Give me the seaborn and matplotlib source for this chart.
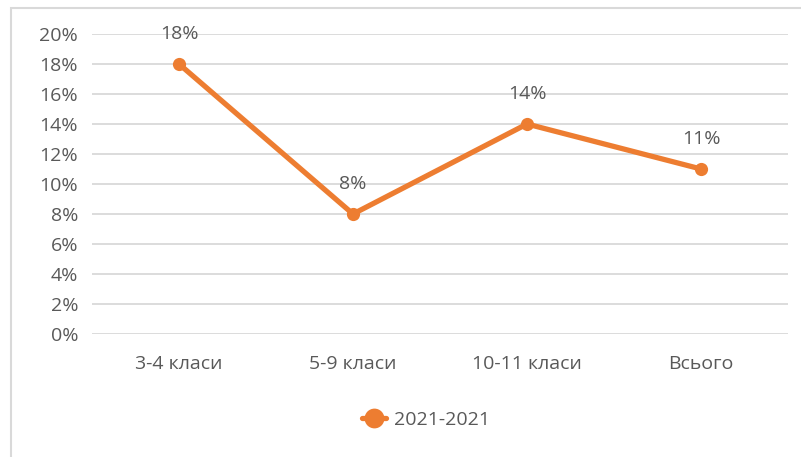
import matplotlib.pyplot as plt
import pandas as pd
import seaborn as sns
from matplotlib.patches import Rectangle
from matplotlib.ticker import FuncFormatter, MultipleLocator

# chart data
categories = ['3-4 класи', '5-9 класи', '10-11 класи', 'Всього']
shares = [0.18, 0.08, 0.14, 0.11]
series_name = '2021-2021'

ORANGE = '#ED7D31'
TEXT = '#595959'
GRID = '#D9D9D9'

sns.set_theme(style='white')
plt.rcParams['font.family'] = ['Open Sans', 'DejaVu Sans']

df = pd.DataFrame({'category': categories, 'share': shares, 'series': series_name})

fig = plt.figure(figsize=(8.01, 4.57), dpi=100)
ax = fig.add_axes([92 / 801, 123 / 457, 696 / 801, 300 / 457])

sns.lineplot(
    data=df, x='category', y='share', hue='series', palette=[ORANGE],
    marker='o', markersize=9.5, markeredgewidth=0, linewidth=3.8,
    sort=False, ax=ax, legend=True
)

# data labels
for i, v in enumerate(shares):
    ax.annotate(f'{v:.0%}', (i, v), xytext=(0, 15), textcoords='offset points',
                ha='center', va='bottom', fontsize=14, color=TEXT)

ax.set_xlim(-0.5, len(categories) - 0.5)
ax.set_ylim(0, 0.2)
ax.yaxis.set_major_locator(MultipleLocator(0.02))
ax.yaxis.set_major_formatter(FuncFormatter(lambda y, _: f'{y:.0%}'))
ax.grid(axis='y', color=GRID, linewidth=1.3)
ax.set_axisbelow(True)
for s in ax.spines.values():
    s.set_visible(False)
ax.tick_params(axis='y', length=0, pad=10, labelsize=14, labelcolor=TEXT)
ax.tick_params(axis='x', length=0, pad=15, labelsize=14, labelcolor=TEXT)
ax.set_xlabel('')
ax.set_ylabel('')

# legend below the plot
handles, labels = ax.get_legend_handles_labels()
ax.legend(handles, labels, loc='center', bbox_to_anchor=(426 / 801, 37 / 457),
          bbox_transform=fig.transFigure, frameon=False, fontsize=14,
          labelcolor=TEXT, handlelength=1.2, handletextpad=0.4, markerscale=1.5)

# chart frame (only top and left edges are visible in the crop)
fig.patches.append(Rectangle((11 / 801, -0.1), 1.2, (457 - 8) / 457 + 0.1,
                             transform=fig.transFigure, fill=False,
                             edgecolor='#D9D9D9', linewidth=1.5))

fig.savefig('out.png', dpi=100, facecolor='white')
